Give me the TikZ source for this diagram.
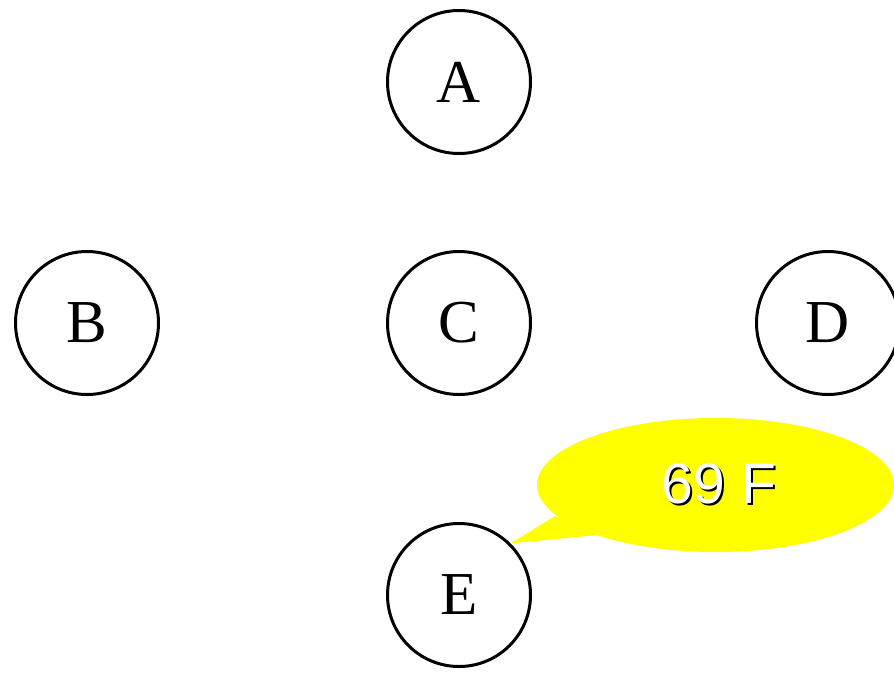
\documentclass[tikz,border=0pt]{standalone}
\usepackage{fontspec}
\setmainfont{Liberation Serif}
\newfontfamily\calloutfont{Liberation Sans}
\usetikzlibrary{shapes.geometric}
\definecolor{bubbleyellow}{RGB}{255,255,0}
\begin{document}
\begin{tikzpicture}[x=1pt,y=-1pt,
  vertex/.style={circle,draw=black,line width=3pt,minimum size=143pt,inner sep=0pt,
    font=\fontsize{61}{61}\selectfont},
  bubble/.style={ellipse,fill=bubbleyellow,minimum width=357pt,minimum height=134pt,inner sep=0pt},
  bubbletext/.style={font=\calloutfont\fontsize{57}{57}\selectfont,anchor=base}]
\useasboundingbox (0,0) rectangle (894,673);
\clip (0,0) rectangle (894,673);
\node[vertex] (A) at (459,82) {\raisebox{-4pt}{A}};
\node[vertex] (B) at (87,323) {\raisebox{-4pt}{B}};
\node[vertex] (C) at (459,323) {\raisebox{-4pt}{C}};
\node[vertex] (D) at (828,323) {\raisebox{-4pt}{D}};
\node[vertex] (E) at (459,595) {\raisebox{-4pt}{E}};
\node[bubble] (callout) at (715.5,485) {};
\coordinate (tailL) at (555,516);
\coordinate (tailR) at (597,535);
\fill[bubbleyellow] (tailL) -- (E.north east) -- (tailR) -- cycle;
\node[bubbletext,text=black] (shadow) at (721,505) {69 F};
\node[bubbletext,text=white] (label) at (719,503) {69 F};
\end{tikzpicture}
\end{document}
